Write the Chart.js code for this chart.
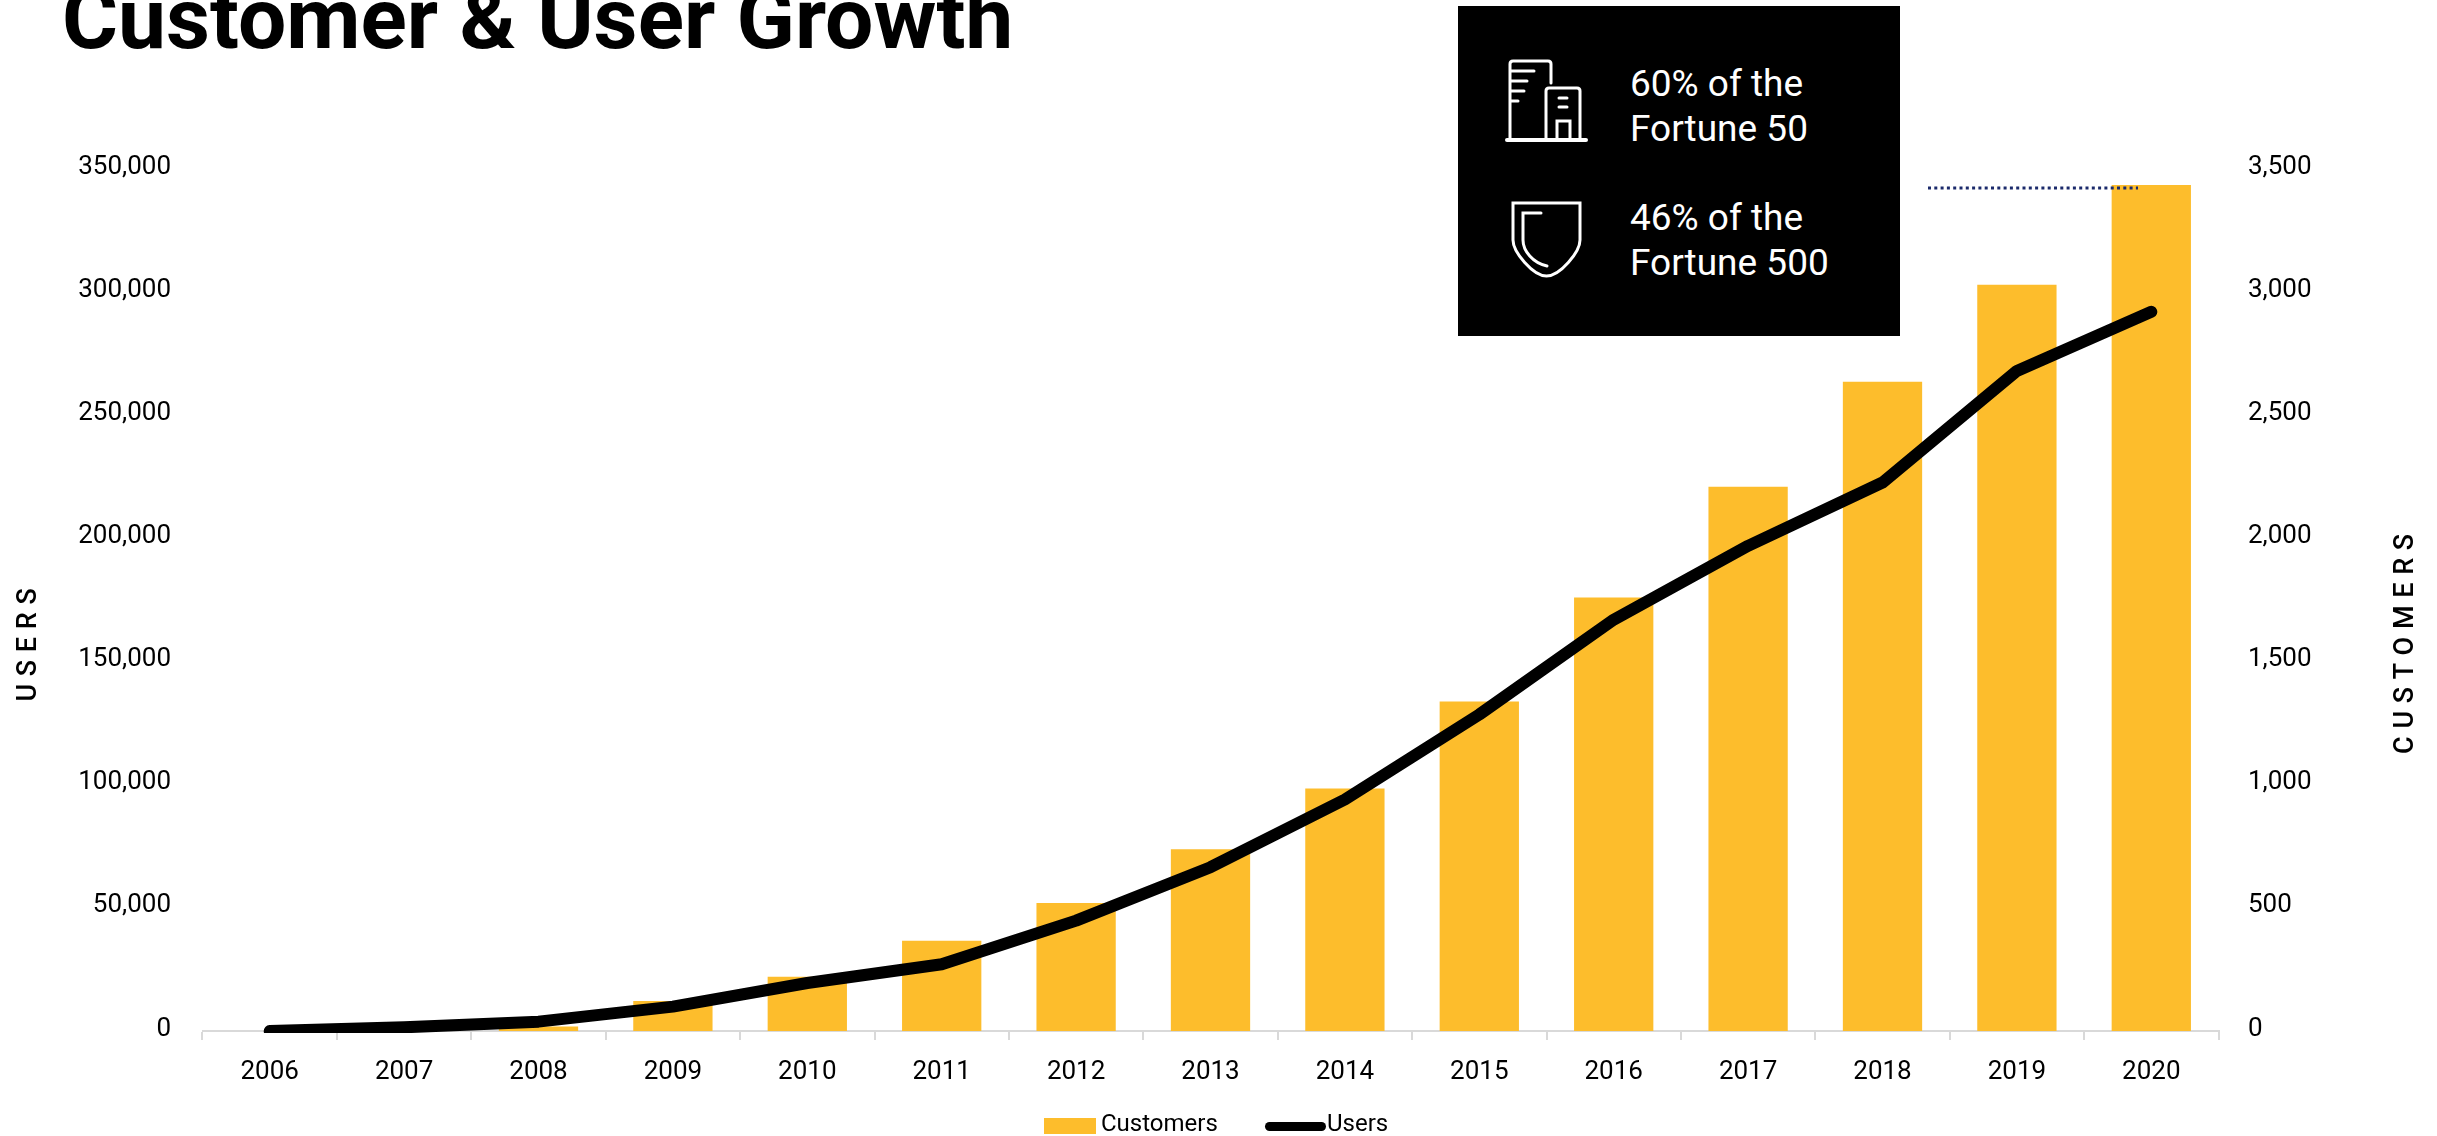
<!DOCTYPE html>
<html>
<head>
<meta charset="utf-8">
<title>Customer & User Growth</title>
<script src="https://cdn.jsdelivr.net/npm/chart.js@4/dist/chart.umd.min.js"></script>
<style>
    html, body { margin: 0; padding: 0; background: #fff; overflow: hidden; }
    #page { position: relative; width: 2437px; height: 1136px; overflow: hidden; font-family: Roboto, sans-serif; color: #000; }
    #page > * { position: absolute; }
    #chartWrap { left: 0; top: 0; width: 2437px; height: 1136px; }
    h1 { margin: 0; left: 62px; top: -28px; font-size: 85.7px; line-height: 94px; font-weight: 700; white-space: nowrap; }
    #callout { left: 1458px; top: 6px; width: 442px; height: 330px; background: #000; color: #fff; }
    #callout div { position: absolute; left: 172px; font-size: 37px; line-height: 44.5px; white-space: nowrap; }
    #callout svg { position: absolute; fill: none; stroke: #fff; stroke-width: 3; stroke-linecap: round; }
    .legend-text { font-size: 24px; line-height: 28px; white-space: nowrap; }
</style>
</head>
<body>
<div id="page">
    <div id="chartWrap"><canvas id="chartGrowth"></canvas></div>
    <h1>Customer &amp; User Growth</h1>

    <div id="callout">
        <svg style="left:47px;top:52px" width="84" height="86" viewBox="0 0 84 86">
            <path d="M5 82V6q0-3 3-3h35q3 0 3 3v19M6 13h23M6 23h16M6 33h13M6 43h7"/>
            <path d="M41 82V33q0-3 3-3h28q3 0 3 3v49M54 40h8M54 49h8M52 82V63h13v19"/>
            <path d="M2 82h79" stroke-width="4"/>
        </svg>
        <div style="top:56px">60% of the<br>Fortune 50</div>
        <svg style="left:53px;top:193px" width="74" height="80" viewBox="0 0 74 80">
            <path d="M2 4h67v37c0 12-20 36-33.5 36S2 53 2 41z"/>
            <path d="M30 14H12v27c0 11 10 23 24 26"/>
        </svg>
        <div style="top:190px">46% of the<br>Fortune 500</div>
    </div>

    <svg style="left:1928px;top:185px" width="214" height="6">
        <line x1="0" y1="3" x2="210" y2="3" stroke="#1b2a6b" stroke-width="3" stroke-dasharray="3 3.3"/>
    </svg>

    <div style="left:1044px;top:1118px;width:52px;height:16px;background:#FDBD2C"></div>
    <div class="legend-text" style="left:1101px;top:1109px">Customers</div>
    <div style="left:1265px;top:1122px;width:61px;height:9px;background:#000;border-radius:5px"></div>
    <div class="legend-text" style="left:1327px;top:1109px">Users</div>
</div>

<script>
const years = ['2006', '2007', '2008', '2009', '2010', '2011', '2012', '2013', '2014', '2015', '2016', '2017', '2018', '2019', '2020'];
const customers = [0, 0, 18, 122, 220, 366, 520, 738, 985, 1338, 1760, 2210, 2636, 3030, 3435];
const users = [0, 1500, 3800, 9900, 19500, 27100, 44800, 66500, 94000, 128500, 167000, 197000, 222700, 268000, 292000];
const userTicks = [0, 50000, 100000, 150000, 200000, 250000, 300000, 350000];
const customerTicks = [0, 500, 1000, 1500, 2000, 2500, 3000, 3500];

const COLORS = {
    bar: '#FDBD2C',
    line: '#000000',
    axis: '#D9D9D9',
    text: '#000000',
};
const TICK_FONT = '26px Roboto, sans-serif';

function fixedWidth(px) {
    return scale => { scale.width = px; };
}

// Value labels sit a little above their gridline position, and the axis
// titles are letter-spaced and off-centre, so they are painted here.
const axisText = {
    id: 'axisText',
    afterDraw(chart) {
        const { ctx } = chart;
        const { yUsers, yCustomers } = chart.scales;
        ctx.save();
        ctx.fillStyle = COLORS.text;
        ctx.font = TICK_FONT;
        ctx.textBaseline = 'middle';
        ctx.textAlign = 'right';
        userTicks.forEach(v => {
            ctx.fillText(v.toLocaleString('en-US'), 171, yUsers.getPixelForValue(v) - 2);
        });
        ctx.textAlign = 'left';
        customerTicks.forEach(v => {
            ctx.fillText(v.toLocaleString('en-US'), 2248, yCustomers.getPixelForValue(v) - 2);
        });

        ctx.font = '500 27px Roboto, sans-serif';
        ctx.letterSpacing = '7.7px';
        ctx.textAlign = 'center';
        ctx.translate(29, 641);
        ctx.rotate(-Math.PI / 2);
        ctx.fillText('USERS', 0, 0);
        ctx.rotate(Math.PI / 2);
        ctx.translate(2406 - 29, 640 - 641);
        ctx.rotate(-Math.PI / 2);
        ctx.fillText('CUSTOMERS', 0, 0);
        ctx.restore();
    },
};

new Chart(document.getElementById('chartGrowth'), {
    type: 'bar',
    data: {
        labels: years,
        datasets: [
            {
                type: 'line',
                label: 'Users',
                data: users,
                yAxisID: 'yUsers',
                borderColor: COLORS.line,
                borderWidth: 12,
                borderCapStyle: 'round',
                borderJoinStyle: 'round',
                pointRadius: 0,
                tension: 0,
                order: 0,
                clip: { left: 10, right: 10, top: 10, bottom: 2 },
            },
            {
                label: 'Customers',
                data: customers,
                yAxisID: 'yCustomers',
                backgroundColor: COLORS.bar,
                borderWidth: 0,
                categoryPercentage: 1,
                barPercentage: 0.59,
                order: 1,
            },
        ],
    },
    options: {
        responsive: true,
        maintainAspectRatio: false,
        animation: false,
        layout: { padding: { top: 169 } },
        plugins: { legend: { display: false }, tooltip: { enabled: false } },
        scales: {
            x: {
                grid: { offset: true, drawOnChartArea: false, color: COLORS.axis, lineWidth: 2, tickLength: 9 },
                border: { color: COLORS.axis, width: 2 },
                ticks: { color: COLORS.text, font: { family: 'Roboto, sans-serif', size: 26 }, padding: 17, maxRotation: 0 },
                afterFit(scale) { scale.height = 105; },
            },
            yUsers: {
                position: 'left',
                min: 0,
                max: 350000,
                grid: { display: false },
                border: { display: false },
                ticks: { display: false, stepSize: 50000 },
                afterFit: fixedWidth(202.5),
            },
            yCustomers: {
                position: 'right',
                min: 0,
                max: 3500,
                grid: { display: false },
                border: { display: false },
                ticks: { display: false, stepSize: 500 },
                afterFit: fixedWidth(218.5),
            },
        },
    },
    plugins: [axisText],
});
</script>
</body>
</html>
